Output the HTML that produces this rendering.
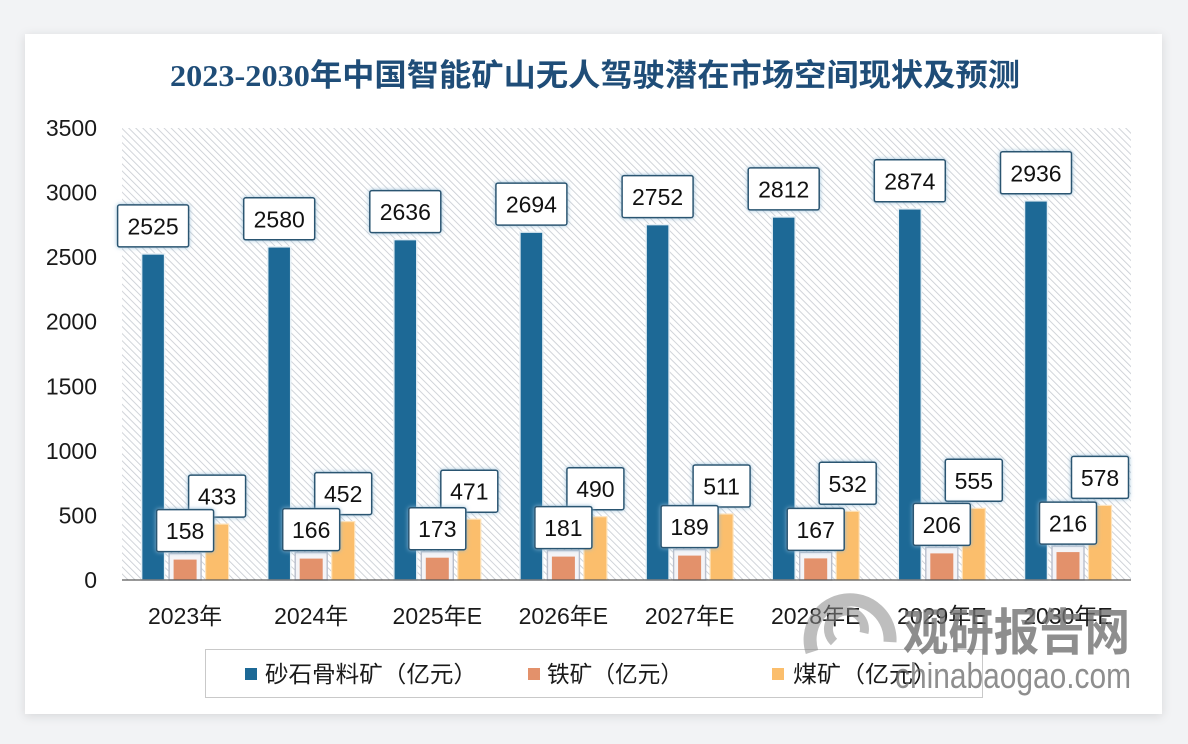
<!DOCTYPE html>
<html><head><meta charset="utf-8"><style>
html,body{margin:0;padding:0;background:#f2f3f5;}
svg{display:block;}
</style></head><body>
<svg width="1188" height="744" viewBox="0 0 1188 744" xmlns="http://www.w3.org/2000/svg">
<defs>
<pattern id="hatch" width="5" height="5" patternUnits="userSpaceOnUse" patternTransform="rotate(-45)">
<rect width="5" height="5" fill="#ffffff"/>
<line x1="0" y1="0" x2="0" y2="5" stroke="#c9cdd3" stroke-width="1.7"/>
</pattern>
<filter id="cardsh" x="-5%" y="-5%" width="110%" height="110%">
<feDropShadow dx="0" dy="2" stdDeviation="5" flood-color="#000" flood-opacity="0.12"/>
</filter>
<filter id="glow" x="-20%" y="-20%" width="140%" height="140%">
<feDropShadow dx="0" dy="0" stdDeviation="2" flood-color="#8fb9d6" flood-opacity="0.9"/>
</filter>
</defs>
<rect x="0" y="0" width="1188" height="744" fill="#f2f3f5"/>
<rect x="25" y="34" width="1137" height="680" fill="#ffffff" filter="url(#cardsh)"/>

<text x="595" y="86" text-anchor="middle" font-family="'Liberation Serif','Noto Sans CJK SC',sans-serif" font-weight="bold" font-size="31" fill="#1f4d78" textLength="850" lengthAdjust="spacingAndGlyphs">2023-2030年中国智能矿山无人驾驶潜在市场空间现状及预测</text>

<rect x="122" y="128" width="1009" height="452" fill="url(#hatch)"/>

<g font-family="'Liberation Sans',sans-serif" font-size="23" fill="#1a1a1a" text-anchor="end">
<text x="97" y="136">3500</text>
<text x="97" y="200.6">3000</text>
<text x="97" y="265.1">2500</text>
<text x="97" y="329.7">2000</text>
<text x="97" y="394.3">1500</text>
<text x="97" y="458.9">1000</text>
<text x="97" y="523.4">500</text>
<text x="97" y="588">0</text>
</g>

<!-- sand bars -->
<g fill="#1d6996" stroke="#e6f0f6" stroke-width="1.5">
<rect x="141.6" y="253.9" width="23" height="326.1"/>
<rect x="267.7" y="246.8" width="23" height="333.2"/>
<rect x="393.8" y="239.6" width="23" height="340.4"/>
<rect x="519.9" y="232.1" width="23" height="347.9"/>
<rect x="646.1" y="224.6" width="23" height="355.4"/>
<rect x="772.2" y="216.9" width="23" height="363.1"/>
<rect x="898.3" y="208.8" width="23" height="371.2"/>
<rect x="1024.5" y="200.8" width="23" height="379.2"/>
</g>

<!-- iron outline boxes -->
<g fill="#f4f4f7" stroke="#b9bfcc" stroke-width="1.4">
<rect x="169.1" y="553.6" width="32" height="26.4"/>
<rect x="295.2" y="552.6" width="32" height="27.4"/>
<rect x="421.3" y="551.7" width="32" height="28.3"/>
<rect x="547.4" y="550.6" width="32" height="29.4"/>
<rect x="673.6" y="549.6" width="32" height="30.4"/>
<rect x="799.7" y="552.4" width="32" height="27.6"/>
<rect x="925.8" y="547.4" width="32" height="32.6"/>
<rect x="1052" y="546.1" width="32" height="33.9"/>
</g>
<g fill="#e3916b">
<rect x="173.6" y="559.6" width="23" height="20.4"/>
<rect x="299.7" y="558.6" width="23" height="21.4"/>
<rect x="425.8" y="557.7" width="23" height="22.3"/>
<rect x="551.9" y="556.6" width="23" height="23.4"/>
<rect x="678.1" y="555.6" width="23" height="24.4"/>
<rect x="804.2" y="558.4" width="23" height="21.6"/>
<rect x="930.3" y="553.4" width="23" height="26.6"/>
<rect x="1056.5" y="552.1" width="23" height="27.9"/>
</g>
<!-- coal bars -->
<g fill="#fbbe6c" stroke="#fde3bd" stroke-width="1.2">
<rect x="205.6" y="524.1" width="23" height="55.9"/>
<rect x="331.7" y="521.6" width="23" height="58.4"/>
<rect x="457.8" y="519.2" width="23" height="60.8"/>
<rect x="583.9" y="516.7" width="23" height="63.3"/>
<rect x="710.1" y="514" width="23" height="66"/>
<rect x="836.2" y="511.3" width="23" height="68.7"/>
<rect x="962.3" y="508.3" width="23" height="71.7"/>
<rect x="1088.5" y="505.4" width="23" height="74.6"/>
</g>

<line x1="122" y1="580" x2="1131" y2="580" stroke="#5a5a5a" stroke-width="1.2"/>

<!-- sand labels -->
<g filter="url(#glow)" fill="#ffffff" stroke="#2a5471" stroke-width="1.5">
<rect x="117.6" y="204.9" width="71" height="42" rx="2"/>
<rect x="243.7" y="197.8" width="71" height="42" rx="2"/>
<rect x="369.8" y="190.6" width="71" height="42" rx="2"/>
<rect x="495.9" y="183.1" width="71" height="42" rx="2"/>
<rect x="622.1" y="175.6" width="71" height="42" rx="2"/>
<rect x="748.2" y="167.9" width="71" height="42" rx="2"/>
<rect x="874.3" y="159.8" width="71" height="42" rx="2"/>
<rect x="1000.5" y="151.8" width="71" height="42" rx="2"/>
</g>
<g font-family="'Liberation Sans',sans-serif" font-size="23" fill="#111" text-anchor="middle">
<text x="153.1" y="234.4">2525</text>
<text x="279.2" y="227.3">2580</text>
<text x="405.3" y="220.1">2636</text>
<text x="531.4" y="212.6">2694</text>
<text x="657.6" y="205.1">2752</text>
<text x="783.7" y="197.4">2812</text>
<text x="909.8" y="189.3">2874</text>
<text x="1036" y="181.3">2936</text>
</g>

<!-- coal labels -->
<g filter="url(#glow)" fill="#ffffff" stroke="#2a5471" stroke-width="1.5">
<rect x="188.6" y="475.1" width="57" height="42" rx="2"/>
<rect x="314.7" y="472.6" width="57" height="42" rx="2"/>
<rect x="440.8" y="470.2" width="57" height="42" rx="2"/>
<rect x="566.9" y="467.7" width="57" height="42" rx="2"/>
<rect x="693.1" y="465" width="57" height="42" rx="2"/>
<rect x="819.2" y="462.3" width="57" height="42" rx="2"/>
<rect x="945.3" y="459.3" width="57" height="42" rx="2"/>
<rect x="1071.5" y="456.4" width="57" height="42" rx="2"/>
</g>
<g font-family="'Liberation Sans',sans-serif" font-size="23" fill="#111" text-anchor="middle">
<text x="217.1" y="504.6">433</text>
<text x="343.2" y="502.1">452</text>
<text x="469.3" y="499.7">471</text>
<text x="595.4" y="497.2">490</text>
<text x="721.6" y="494.5">511</text>
<text x="847.7" y="491.8">532</text>
<text x="973.8" y="488.8">555</text>
<text x="1100" y="485.9">578</text>
</g>

<!-- iron labels -->
<g filter="url(#glow)" fill="#ffffff" stroke="#2a5471" stroke-width="1.5">
<rect x="156.6" y="509.6" width="57" height="42" rx="2"/>
<rect x="282.7" y="508.6" width="57" height="42" rx="2"/>
<rect x="408.8" y="507.7" width="57" height="42" rx="2"/>
<rect x="534.9" y="506.6" width="57" height="42" rx="2"/>
<rect x="661.1" y="505.6" width="57" height="42" rx="2"/>
<rect x="787.2" y="508.4" width="57" height="42" rx="2"/>
<rect x="913.3" y="503.4" width="57" height="42" rx="2"/>
<rect x="1039.5" y="502.1" width="57" height="42" rx="2"/>
</g>
<g font-family="'Liberation Sans',sans-serif" font-size="23" fill="#111" text-anchor="middle">
<text x="185.1" y="539.1">158</text>
<text x="311.2" y="538.1">166</text>
<text x="437.3" y="537.2">173</text>
<text x="563.4" y="536.1">181</text>
<text x="689.6" y="535.1">189</text>
<text x="815.7" y="537.9">167</text>
<text x="941.8" y="532.9">206</text>
<text x="1068" y="531.6">216</text>
</g>

<!-- category labels -->
<g font-family="'Liberation Sans','Noto Sans CJK SC',sans-serif" font-size="23" fill="#1a1a1a" text-anchor="middle">
<text x="185.1" y="624">2023年</text>
<text x="311.2" y="624">2024年</text>
<text x="437.3" y="624">2025年E</text>
<text x="563.4" y="624">2026年E</text>
<text x="689.6" y="624">2027年E</text>
<text x="815.7" y="624">2028年E</text>
<text x="941.8" y="624">2029年E</text>
<text x="1068" y="624">2030年E</text>
</g>

<!-- legend -->
<rect x="205.5" y="649.5" width="777" height="48" fill="#ffffff" stroke="#c9c9c9" stroke-width="1"/>
<rect x="245" y="668" width="12" height="12" fill="#1d6996"/>
<rect x="528" y="668" width="12" height="12" fill="#e3916b"/>
<rect x="772" y="668" width="12" height="12" fill="#fbbe6c"/>
<g font-family="'Liberation Sans','Noto Sans CJK SC',sans-serif" font-size="23" fill="#1a1a1a">
<text x="265" y="682" textLength="212" lengthAdjust="spacingAndGlyphs">砂石骨料矿（亿元）</text>
<text x="547" y="682" textLength="136" lengthAdjust="spacingAndGlyphs">铁矿（亿元）</text>
<text x="793" y="682" textLength="144" lengthAdjust="spacingAndGlyphs">煤矿（亿元）</text>
</g>

<!-- watermark -->
<g opacity="0.55" fill="none" stroke="#8a8a8a">
<path d="M 812 652 A 40 40 0 1 1 890 642" stroke-width="13"/>
<path d="M 834 642 A 18 18 0 1 1 864 633" stroke-width="9"/>
</g>
<g fill="#6f6f6f" opacity="0.78">
<text x="903" y="650" font-family="'Noto Sans CJK SC',sans-serif" font-weight="bold" font-size="50" textLength="227" lengthAdjust="spacingAndGlyphs">观研报告网</text>
<text x="895" y="688" font-family="'Liberation Sans',sans-serif" font-size="36" textLength="236" lengthAdjust="spacingAndGlyphs">chinabaogao.com</text>
</g>
</svg>
</body></html>
